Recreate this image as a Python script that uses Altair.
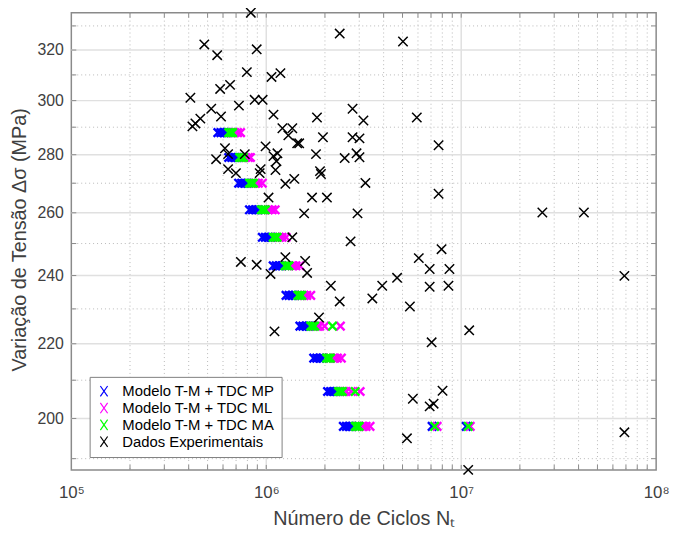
import altair as alt
import pandas as pd

# ---------------- data (N in millions of cycles, S in MPa) ----------------
LEVELS = [288, 279, 270, 261, 252, 243, 234, 225, 216, 207, 198]

# dense simulated results per stress level
MP_N = [
    [0.5645, 0.5846, 0.6054, 0.6270],
    [0.6418, 0.6647, 0.6883, 0.7129],
    [0.7213, 0.7470, 0.7735, 0.8011],
    [0.8200, 0.8492, 0.8795, 0.9108],
    [0.9544, 0.9884, 1.0236, 1.0602],
    [1.0852, 1.1238, 1.1639, 1.2054],
    [1.2630, 1.3081, 1.3547, 1.4029],
    [1.4873, 1.5402, 1.5951, 1.6520],
    [1.7512, 1.8137, 1.8784, 1.9451],
    [2.0621, 2.1357, 2.2117, 2.2906],
    [2.4855, 2.5742, 2.6660, 2.7611],
]
ML_N = [
    [0.6646, 0.6883, 0.7129, 0.7383],
    [0.7557, 0.7826, 0.8105, 0.8297],
    [0.8492, 0.8795, 0.9108, 0.9544],
    [0.9769, 1.0236, 1.0726, 1.1108],
    [1.1238, 1.1639, 1.2054, 1.2630],
    [1.2929, 1.3547, 1.4194, 1.4873],
    [1.5048, 1.5583, 1.6138, 1.6910],
    [1.7512, 1.8137, 1.8784],
    [2.1109, 2.2117, 2.3175, 2.4282],
    [2.4000, 2.4855, 2.5742],
    [2.9613, 3.1026, 3.2511, 3.4066],
]
MA_N = [
    [0.6418, 0.6570, 0.6725],
    [0.7297, 0.7470, 0.7645],
    [0.8200, 0.8393, 0.8592],
    [0.9433, 0.9656, 0.9884],
    [1.0852, 1.1108, 1.1370],
    [1.2483, 1.2778, 1.3081],
    [1.4530, 1.4873, 1.5225],
    [1.6910, 1.7309, 1.7718],
    [2.0382, 2.0864, 2.1357],
    [2.3448, 2.4000, 2.4567],
    [2.8593, 2.9269, 2.9961],
]
# isolated simulated results (stress, N)
MP_EXTRA = [(198, 7.094), (198, 10.614)]
ML_EXTRA = [(225, 1.9911), (225, 2.4000), (207, 2.7290), (207, 3.0310), (198, 7.521), (198, 11.12)]
MA_EXTRA = [(225, 2.1860), (207, 2.8593), (198, 7.305), (198, 10.864)]

EXP_N = [0.833, 0.481, 0.560, 0.893, 0.795, 1.064, 1.182, 0.580, 0.652, 0.408,
         0.872, 0.958, 0.522, 0.724, 0.586, 1.089, 0.459, 0.433, 0.418, 1.210,
         1.360, 1.298, 1.441, 0.992, 0.614, 0.553, 0.637, 0.776, 0.637, 0.699,
         0.925, 0.936, 1.089, 1.128, 1.141, 1.115, 1.253, 1.392, 1.027, 1.717,
         2.047, 1.564, 1.360, 2.381, 5.027, 2.771, 1.820, 3.151, 1.953, 2.771,
         3.007, 1.475, 1.799, 2.525, 2.904, 3.007, 1.886, 1.908, 3.226, 5.919,
         7.655, 7.655, 2.938, 26.08, 42.59, 2.707, 7.928, 6.059, 6.890, 8.703,
         68.73, 3.934, 4.689, 6.890, 8.602, 2.381, 3.500, 5.455, 10.99, 7.052,
         5.649, 8.021, 6.890, 7.219, 5.267, 68.73, 10.86, 0.741, 0.893, 1.253,
         1.583, 1.052, 1.620, 2.144, 1.864, 1.102]
EXP_S = [335.6, 322.3, 317.9, 320.3, 311.1, 309.2, 310.7, 304.5, 306.1, 301.1,
         300.3, 300.3, 296.9, 298.1, 294.0, 294.7, 293.2, 291.4, 290.3, 289.6,
         289.6, 287.0, 284.1, 283.0, 282.3, 278.4, 280.2, 280.2, 274.9, 273.5,
         273.5, 274.9, 279.5, 277.7, 280.5, 274.6, 269.8, 271.5, 265.1, 265.1,
         265.1, 259.8, 252.0, 326.8, 323.5, 296.9, 293.6, 292.5, 286.3, 286.3,
         285.9, 284.1, 280.2, 278.8, 280.5, 279.1, 274.2, 273.2, 270.1, 293.6,
         283.4, 266.4, 259.8, 260.1, 260.1, 250.7, 248.2, 245.4, 242.0, 242.0,
         239.9, 236.9, 239.3, 236.6, 236.9, 232.2, 233.1, 230.7, 223.8, 220.4,
         205.1, 207.2, 203.1, 203.8, 195.0, 196.5, 187.3, 244.2, 243.3, 245.7,
         244.5, 240.5, 240.8, 236.9, 227.5, 223.5]

SERIES = ["Modelo T-M + TDC MP", "Modelo T-M + TDC ML",
          "Modelo T-M + TDC MA", "Dados Experimentais"]
COLORS = ["#0000ff", "#ff00ff", "#00ff00", "#000000"]

X_MAJOR = [1e5, 1e6, 1e7, 1e8]
X_MINOR = [2e5, 3e5, 4e5, 5e5, 6e5, 7e5, 8e5, 9e5,
           2e6, 3e6, 4e6, 5e6, 6e6, 7e6, 8e6, 9e6,
           2e7, 3e7, 4e7, 5e7, 6e7, 7e7, 8e7, 9e7]
Y_MAJOR = [200, 220, 240, 260, 280, 300, 320]
Y_MINOR = [190, 210, 230, 250, 270, 290, 310, 330]

# ---------------- tables ----------------
point_tables = []
band_tables = []
for name, table, extra in zip(SERIES[:3], [MP_N, ML_N, MA_N], [MP_EXTRA, ML_EXTRA, MA_EXTRA]):
    rows, brows = [], []
    for s, ns in zip(LEVELS, table):
        for n in ns:
            rows.append({"N": n * 1e6, "S": s, "serie": name})
        brows.append({"lo": min(ns) * 1e6, "hi": max(ns) * 1e6, "S": s})
    for s, n in extra:
        rows.append({"N": n * 1e6, "S": s, "serie": name})
    point_tables.append(pd.DataFrame(rows))
    band_tables.append(pd.DataFrame(brows))
exp = pd.DataFrame({"N": [n * 1e6 for n in EXP_N], "S": EXP_S, "serie": SERIES[3]})
xticks = pd.DataFrame({"N": X_MAJOR[1:3] + X_MINOR})
yticks = pd.DataFrame({"S": Y_MAJOR + Y_MINOR})

FONT = "Liberation Sans"
XPATH = "M-1,-1L1,1M1,-1L-1,1"
LEGPATH = "M-0.7,-1L0.7,1M0.7,-1L-0.7,1"
W, H = 591, 462

xs = alt.Scale(type="log", domain=[1e5, 1e8], nice=False)
ys = alt.Scale(type="log", domain=[187.3, 335.6], nice=False, zero=False)

x_axis = alt.Axis(
    values=X_MAJOR,
    labelExpr="datum.value < 5e5 ? '10⁵' : datum.value < 5e6 ? '10⁶' : datum.value < 5e7 ? '10⁷' : '10⁸'",
    title="Número de Ciclos Nₜ", grid=False, domain=False, ticks=False, tickSize=0,
    labelPadding=28, labelBaseline="alphabetic", labelFontSize=17, labelColor="#404040",
    labelFont=FONT, labelFlush=False,
    titleFont=FONT, titleFontSize=20, titleFontWeight="normal", titleColor="#404040",
    titleY=55, titleBaseline="alphabetic")
y_axis = alt.Axis(
    values=Y_MAJOR, format="d",
    title="Variação de Tensão Δσ (MPa)", grid=False, domain=False, ticks=False, tickSize=0,
    labelPadding=8, labelFontSize=16, labelColor="#404040", labelFont=FONT,
    titleFont=FONT, titleFontSize=20, titleFontWeight="normal", titleColor="#404040",
    titleX=-46, titleY=229, titleAngle=270, titleAlign="center", titleBaseline="alphabetic")


def X(f="N"):
    return alt.X(f"{f}:Q", scale=xs, axis=x_axis)


def Y(f="S"):
    return alt.Y(f"{f}:Q", scale=ys, axis=y_axis)


minor_x = alt.Chart(pd.DataFrame({"N": X_MINOR})).mark_rule(
    color="#b8b8b8", strokeDash=[1, 3], strokeWidth=1).encode(x=X())
minor_y = alt.Chart(pd.DataFrame({"S": Y_MINOR})).mark_rule(
    color="#b8b8b8", strokeDash=[1, 3], strokeWidth=1).encode(y=Y())
major_x = alt.Chart(pd.DataFrame({"N": X_MAJOR[1:3]})).mark_rule(
    color="#e0e0e0", strokeWidth=1.5).encode(x=X())
major_y = alt.Chart(pd.DataFrame({"S": Y_MAJOR})).mark_rule(
    color="#e0e0e0", strokeWidth=1.5).encode(y=Y())

# small inward ticks on all four sides (MATLAB style)
tick_style = dict(color="#8a8a8a", strokeWidth=1)
tick_bottom = alt.Chart(xticks).mark_rule(**tick_style).encode(
    x=X(), y=alt.value(H - 5), y2=alt.value(H))
tick_top = alt.Chart(xticks).mark_rule(**tick_style).encode(
    x=X(), y=alt.value(0), y2=alt.value(5))
tick_left = alt.Chart(yticks).mark_rule(**tick_style).encode(
    y=Y(), x=alt.value(0), x2=alt.value(5))
tick_right = alt.Chart(yticks).mark_rule(**tick_style).encode(
    y=Y(), x=alt.value(W - 5), x2=alt.value(W))

legend = alt.Legend(
    title=None, orient="none", legendX=18.5, legendY=368,
    fillColor="white", strokeColor="#808080", padding=7,
    symbolType=LEGPATH, symbolSize=110, symbolStrokeWidth=1.2, symbolOffset=0,
    labelFont=FONT, labelFontSize=15, labelColor="#000000", labelOffset=11,
    rowPadding=0,
    labelExpr="datum.label == 'Dados Experimentais' ? '\u00a0Dados Experimentais' : datum.label + '\u00a0\u00a0\u00a0\u00a0\u00a0\u00a0\u00a0\u00a0'")

color = alt.Color("serie:N", scale=alt.Scale(domain=SERIES, range=COLORS), legend=legend)

layers = [minor_x, minor_y, major_x, major_y, tick_bottom, tick_top, tick_left, tick_right]

# model results: MP, then ML, then MA (MA drawn on top, as in the original)
for pts_df, band_df, col in zip(point_tables, band_tables, COLORS[:3]):
    band = alt.Chart(band_df).mark_rule(strokeWidth=8, color=col, opacity=1).encode(
        x=X("lo"), x2=alt.X2("hi"), y=Y())
    pts = alt.Chart(pts_df).mark_point(
        shape=XPATH, filled=False, size=72, strokeWidth=2.4, opacity=1).encode(
        x=X(), y=Y(), color=color)
    layers += [band, pts]

pts_exp = alt.Chart(exp).mark_point(
    shape=XPATH, filled=False, size=90, strokeWidth=1.5, opacity=1).encode(
    x=X(), y=Y(), color=color)
layers.append(pts_exp)

chart = alt.layer(*layers).properties(
    width=W, height=H,
    autosize=alt.AutoSizeParams(type="none"),
    padding={"left": 64, "top": 2, "right": 14, "bottom": 60},
    background="white",
).configure_view(stroke="#8a8a8a", strokeWidth=1.5)

chart.save("out.html", embed_options={"renderer": "svg", "actions": False})
